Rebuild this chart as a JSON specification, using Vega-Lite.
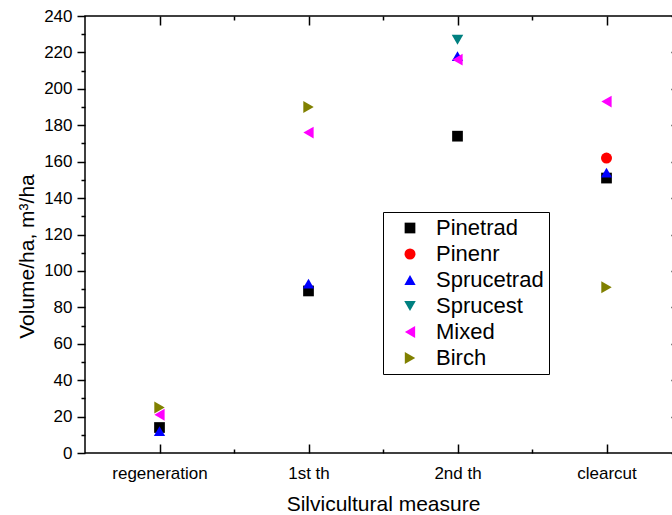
{
  "$schema": "https://vega.github.io/schema/vega-lite/v6.json",
  "width": 596,
  "height": 437,
  "autosize": {"type": "none"},
  "padding": {"left": 85, "top": 16, "right": 0, "bottom": 62},
  "config": {
    "font": "Liberation Sans",
    "view": {"stroke": "black", "strokeWidth": 1.5},
    "axis": {"domain": false, "grid": false, "tickColor": "black", "labelColor": "black", "titleColor": "black", "tickWidth": 1.5, "titleFontWeight": "normal"}
  },
  "data": {
    "values": [
      {"measure": "regeneration", "series": "Pinetrad", "volume": 14},
      {"measure": "regeneration", "series": "Sprucetrad", "volume": 12},
      {"measure": "regeneration", "series": "Mixed", "volume": 21},
      {"measure": "regeneration", "series": "Birch", "volume": 25},
      {"measure": "1st th", "series": "Pinetrad", "volume": 89},
      {"measure": "1st th", "series": "Sprucetrad", "volume": 93},
      {"measure": "1st th", "series": "Mixed", "volume": 176},
      {"measure": "1st th", "series": "Birch", "volume": 190},
      {"measure": "2nd th", "series": "Pinetrad", "volume": 174},
      {"measure": "2nd th", "series": "Sprucetrad", "volume": 218},
      {"measure": "2nd th", "series": "Sprucest", "volume": 227},
      {"measure": "2nd th", "series": "Mixed", "volume": 216},
      {"measure": "clearcut", "series": "Pinetrad", "volume": 151},
      {"measure": "clearcut", "series": "Pinenr", "volume": 162},
      {"measure": "clearcut", "series": "Sprucetrad", "volume": 154},
      {"measure": "clearcut", "series": "Mixed", "volume": 193},
      {"measure": "clearcut", "series": "Birch", "volume": 91}
    ]
  },
  "layer": [
    {
      "mark": {"type": "point", "opacity": 0},
      "encoding": {
        "x": {"field": "measure", "type": "nominal", "scale": {"domain": ["regeneration", "1st th", "2nd th", "clearcut"]}, "axis": null},
        "y": {"field": "volume", "type": "quantitative", "scale": {"domain": [0, 240], "nice": false}, "axis": {"orient": "left", "values": [10, 30, 50, 70, 90, 110, 130, 150, 170, 190, 210, 230], "tickSize": 4, "labels": false, "title": null}}
      }
    },
    {
      "mark": {"type": "point", "opacity": 0},
      "encoding": {
        "x": {"field": "measure", "type": "nominal", "scale": {"domain": ["regeneration", "1st th", "2nd th", "clearcut"]}, "axis": null},
        "y": {"field": "volume", "type": "quantitative", "scale": {"domain": [0, 240], "nice": false}, "axis": {"orient": "right", "values": [0, 20, 40, 60, 80, 100, 120, 140, 160, 180, 200, 220, 240], "tickSize": -10, "labels": false, "title": null}}
      }
    },
    {
      "mark": {"type": "point", "opacity": 0},
      "encoding": {
        "x": {"field": "measure", "type": "nominal", "scale": {"domain": ["regeneration", "1st th", "2nd th", "clearcut"]}, "axis": {"orient": "top", "tickSize": -9, "labels": false, "title": null}},
        "y": {"field": "volume", "type": "quantitative", "scale": {"domain": [0, 240], "nice": false}, "axis": null}
      }
    },
    {
      "mark": {"type": "point", "opacity": 0},
      "encoding": {
        "x": {"field": "measure", "type": "nominal", "scale": {"domain": ["regeneration", "1st th", "2nd th", "clearcut"]}, "axis": {"orient": "top", "tickSize": -4, "tickOffset": 74.5, "labels": false, "title": null}},
        "y": {"field": "volume", "type": "quantitative", "scale": {"domain": [0, 240], "nice": false}, "axis": null}
      }
    },
    {
      "mark": {"type": "point", "opacity": 0},
      "encoding": {
        "x": {"field": "measure", "type": "nominal", "scale": {"domain": ["regeneration", "1st th", "2nd th", "clearcut"]}, "axis": {"orient": "bottom", "tickSize": -9, "labels": false, "title": null}},
        "y": {"field": "volume", "type": "quantitative", "scale": {"domain": [0, 240], "nice": false}, "axis": null}
      }
    },
    {
      "mark": {"type": "point", "opacity": 0},
      "encoding": {
        "x": {"field": "measure", "type": "nominal", "scale": {"domain": ["regeneration", "1st th", "2nd th", "clearcut"]}, "axis": {"orient": "bottom", "tickSize": -4, "tickOffset": 74.5, "labels": false, "title": null}},
        "y": {"field": "volume", "type": "quantitative", "scale": {"domain": [0, 240], "nice": false}, "axis": null}
      }
    },
    {
      "mark": {"type": "point", "filled": true, "opacity": 1},
      "encoding": {
        "x": {"field": "measure", "type": "nominal", "scale": {"domain": ["regeneration", "1st th", "2nd th", "clearcut"]}, "axis": {"orient": "bottom", "ticks": false, "labelAngle": 0, "labelFontSize": 17, "labelPadding": 12, "title": "Silvicultural measure", "titleFontSize": 21, "titlePadding": 12}},
        "y": {"field": "volume", "type": "quantitative", "scale": {"domain": [0, 240], "nice": false}, "axis": {"orient": "left", "values": [0, 20, 40, 60, 80, 100, 120, 140, 160, 180, 200, 220, 240], "tickSize": 8, "labelPadding": 5, "labelFontSize": 17, "title": "Volume/ha, m³/ha", "titleFontSize": 21, "titlePadding": 6, "titleY": 240}},
        "color": {"field": "series", "type": "nominal", "scale": {"domain": ["Pinetrad", "Pinenr", "Sprucetrad", "Sprucest", "Mixed", "Birch"], "range": ["#000000", "#ff0000", "#0000ff", "#008080", "#ff00ff", "#808000"]},
          "legend": {"orient": "none", "legendX": 298, "legendY": 196, "title": null, "strokeColor": "black", "fillColor": "white", "padding": 5, "labelFontSize": 22, "labelColor": "black", "rowPadding": 4, "symbolOffset": 11, "labelOffset": 15, "symbolStrokeWidth": 0}},
        "shape": {"field": "series", "type": "nominal", "scale": {"domain": ["Pinetrad", "Pinenr", "Sprucetrad", "Sprucest", "Mixed", "Birch"], "range": ["square", "circle", "triangle-up", "triangle-down", "triangle-left", "triangle-right"]}},
        "size": {"field": "series", "type": "nominal", "scale": {"domain": ["Pinetrad", "Pinenr", "Sprucetrad", "Sprucest", "Mixed", "Birch"], "range": [115, 145, 180, 180, 180, 180]}}
      }
    }
  ],
  "resolve": {"axis": {"x": "independent", "y": "independent"}}
}
